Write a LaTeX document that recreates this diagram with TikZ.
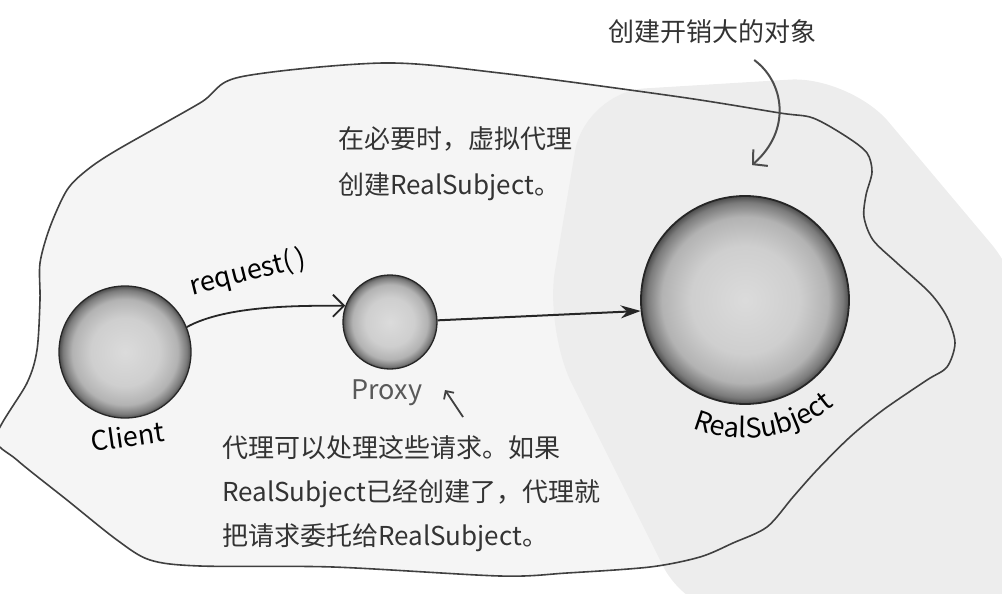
\documentclass[tikz,border=0pt]{standalone}
\usepackage{fontspec}
\setmainfont{Noto Sans CJK SC}
\usetikzlibrary{arrows.meta,decorations.text}
\pgfdeclareradialshading{ballshade}{\pgfpoint{0bp}{0bp}}{color(0bp)=(black!14);color(13bp)=(black!19);color(20bp)=(black!30);color(23.5bp)=(black!52);color(25bp)=(black!70);color(50bp)=(black!70)}

\begin{document}
\begin{tikzpicture}[x=1pt,y=-1pt,
  ball/.style={circle,draw=black!85,line width=1.3pt,shading=ballshade,inner sep=0pt},
  note/.style={inner sep=0pt,anchor=west,align=left,text=black!80,font=\fontsize{26}{46}\selectfont},
  tag/.style={inner sep=0pt,font=\fontsize{27}{30}\selectfont},
  flow/.style={line width=1.8pt,draw=black!85}]
\useasboundingbox (0,0) rectangle (1002,594);
\fill[black!4] plot[smooth cycle] coordinates {(40,263) (50,227) (67,190) (87,170) (117,150) (200,103) (240,77) (383,63) (500,73) (680,97) (780,113) (813,118) (847,137) (867,153) (872,172) (866,195) (864,217) (873,240) (897,263) (930,293) (947,317) (955,343) (947,367) (927,380) (883,410) (850,437) (817,470) (793,497) (767,527) (733,543) (700,557) (650,567) (567,573) (500,576) (333,567) (200,566) (150,560) (117,540) (67,500) (17,460) (-4,437) (27,383) (37,350) (40,300)};
\fill[black!7,rounded corners=60pt] (585,92) -- (850,76) -- (1030,290) -- (1030,620) -- (690,620) -- (545,330) -- cycle;
\draw[black!75,line width=1.6pt] plot[smooth cycle] coordinates {(40,263) (50,227) (67,190) (87,170) (117,150) (200,103) (240,77) (383,63) (500,73) (680,97) (780,113) (813,118) (847,137) (867,153) (872,172) (866,195) (864,217) (873,240) (897,263) (930,293) (947,317) (955,343) (947,367) (927,380) (883,410) (850,437) (817,470) (793,497) (767,527) (733,543) (700,557) (650,567) (567,573) (500,576) (333,567) (200,566) (150,560) (117,540) (67,500) (17,460) (-4,437) (27,383) (37,350) (40,300)};

\node[ball,minimum size=132pt] (client) at (125,352) {};
\node[ball,minimum size=94pt] (proxy) at (390,322) {};
\node[ball,minimum size=208pt,line width=1.8pt] (real) at (745,300) {};

\node[tag,rotate=8] (clientlbl) at (128,436) {Client};
\node[tag,text=black!65] (proxylbl) at (387,393) {Proxy};
\node[tag,rotate=14] (reqlbl) at (248,273) {request(\,)};
\path[decorate,decoration={text along path,text align=center,
  text={|\fontsize{27}{30}\selectfont|RealSubject}}]
  (real.center) ++(124:138) arc[start angle=124,end angle=38,radius=138];

\node[note] (cost) at (608,32) {创建开销大的对象};
\node[note] (lazy) at (338,164) {在必要时，虚拟代理\\创建RealSubject。};
\node[note,font=\fontsize{26}{44}\selectfont] (handle) at (222,494) {代理可以处理这些请求。如果\\RealSubject已经创建了，代理就\\把请求委托给RealSubject。};

\draw[flow,-{Straight Barb[length=11pt,width=22pt]}] (client.22) .. controls +(40,-22) and +(-45,0) .. (proxy.160);
\draw[flow,line width=2pt,-{Stealth[length=20pt,width=13pt]}] (proxy.2) -- (real.186);
\draw[black!70,line width=2pt,-{Straight Barb[length=10pt,width=22pt]}] ([shift={(42,28)}]cost.center) .. controls +(30,22) and +(40,-35) .. ([shift={(7,-30)}]real.north);
\coordinate (ptail) at (463,417);
\coordinate (ptip) at (445,390);
\draw[black!75,line width=1.8pt,-{Straight Barb[length=6pt,width=12pt]}] (ptail) -- (ptip);
\end{tikzpicture}
\end{document}
